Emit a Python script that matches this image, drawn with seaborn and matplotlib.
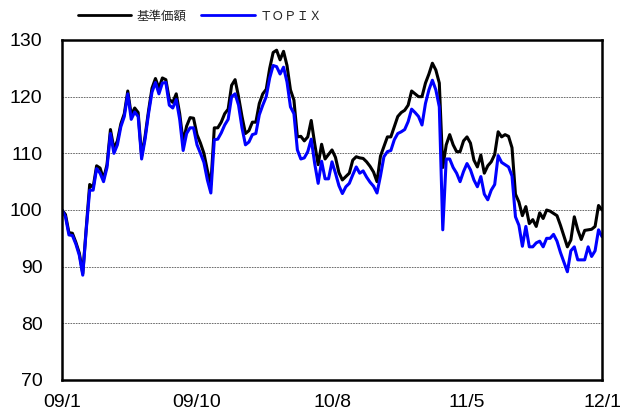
import numpy as np
import pandas as pd
import matplotlib
matplotlib.use("Agg")
import matplotlib.pyplot as plt
import seaborn as sns

# weekly values, 2009/1 - 2012/1, start = 100
fund = [100, 99.2, 96, 95.9, 94.3, 92.4, 88.8, 96.8, 104.5, 104,
        107.8, 107.4, 105.5, 108, 114.2, 110.8, 112.2, 115.2, 117, 121,
        116.8, 118, 117.2, 109.5, 113, 117.5, 121.5, 123.2, 121.5, 123.3,
        123, 119.5, 119, 120.5, 117, 112, 114.8, 116.3, 116.2, 113.3,
        111.8, 110, 107, 104.5, 114.5, 114.5, 115.5, 117, 117.8, 122,
        123, 120, 116.5, 113.5, 114, 115.5, 115.5, 118.8, 120.5, 121.3,
        125, 127.8, 128.2, 126.5, 128, 125.5, 121.2, 119.4, 112.9, 113,
        112.2, 112.9, 115.8, 111.7, 108, 111.6, 109, 109.8, 110.6, 109.3,
        106.6, 105.3, 105.9, 106.5, 108.8, 109.4, 109.2, 109.1, 108.5, 107.7,
        106.7, 105, 109.5, 111.2, 112.9, 112.9, 114.7, 116.5, 117.2, 117.6,
        118.5, 121, 120.5, 120, 120, 122.4, 124, 125.9, 124.7, 122.4,
        107.5, 111.5, 113.3, 111.5, 110.3, 110.3, 112.2, 112.9, 111.8, 108.8,
        107.6, 109.7, 106.5, 107.8, 108.5, 109.8, 113.8, 112.9, 113.3, 113,
        111, 102.8, 101.4, 99, 100.6, 97.6, 98.3, 97.1, 99.5, 98.5,
        100, 99.8, 99.4, 99, 97.3, 95.4, 93.5, 94.7, 98.8, 96.5,
        94.8, 96.4, 96.5, 96.6, 97.1, 100.8, 100]

topix = [100, 98.8, 95.6, 95.5, 94, 92, 88.5, 96.5, 103.5, 103.5,
         107.3, 106.5, 105, 107.5, 113.5, 110, 111.5, 114.7, 116.5, 120.5,
         116, 117.3, 116.5, 109, 112.5, 117, 120.8, 122.5, 120.5, 122.4,
         122.5, 118.5, 118, 119.5, 116, 110.5, 113.5, 114.5, 114.5, 111.5,
         110, 108.4, 105.3, 103, 112.4, 112.5, 113.6, 115, 116, 120,
         120.5, 118.5, 114.5, 111.5, 112, 113.3, 113.5, 116.8, 118.5, 120,
         123.3, 125.5, 125.3, 124, 125.2, 122.6, 118.2, 117, 110.6, 109,
         109.2, 110.3, 112.5, 108.2, 104.7, 108.6, 105.5, 105.5, 108.5, 106.5,
         104.3, 102.9, 104.1, 104.7, 106.2, 107.6, 106.5, 106.9, 105.8, 104.9,
         104.2, 103, 106, 109.4, 110.3, 110.5, 112.4, 113.5, 113.8, 114.2,
         115.6, 117.8, 117.2, 116.5, 115, 118.8, 121.2, 122.9, 121.2, 118.2,
         96.5, 109, 109, 107.5, 106.5, 105, 106.8, 108.2, 107.1, 105.3,
         104.1, 105.9, 102.8, 101.8, 103.5, 104.5, 109.6, 108.4, 108, 107.6,
         106, 98.8, 97.3, 93.6, 97.1, 93.5, 93.5, 94.2, 94.5, 93.5,
         95, 95, 95.7, 94.5, 92.5, 90.8, 89.1, 92.8, 93.5, 91.2,
         91.2, 91.2, 93.5, 91.8, 92.8, 96.5, 95.3]

series_names = ["基準価額", "ＴＯＰＩＸ"]
series_colors = ["black", "#0000ff"]
tick_labels = ["09/1", "09/10", "10/8", "11/5", "12/1"]

NUM_FONT = ["Liberation Sans Narrow", "Liberation Sans", "DejaVu Sans"]
JP_FONT = ["Noto Sans CJK JP", "DejaVu Sans"]


def build_frame():
    week = np.arange(len(fund))
    df = pd.concat([
        pd.DataFrame({"week": week, "value": fund, "name": series_names[0]}),
        pd.DataFrame({"week": week, "value": topix, "name": series_names[1]}),
    ], ignore_index=True)
    return df


def draw(df):
    sns.set_style("white")
    fig = plt.figure(figsize=(6.34, 4.16), dpi=100)
    ax = fig.add_axes([62 / 634, 36 / 416, 540 / 634, 340 / 416])

    sns.lineplot(data=df, x="week", y="value", hue="name",
                 hue_order=series_names, palette=series_colors,
                 linewidth=2.2, ax=ax)

    n = len(fund) - 1
    ax.set_xlim(0, n)
    ax.set_ylim(70, 130)
    ax.set_xticks(np.linspace(0, n, len(tick_labels)))
    ax.set_xticklabels(tick_labels)
    ax.set_yticks(range(70, 131, 10))
    ax.set_xlabel("")
    ax.set_ylabel("")

    for y in range(80, 130, 10):
        ax.axhline(y, color="#555555", linewidth=0.6,
                   linestyle=(0, (2, 1.2)), zorder=0)

    for s in ax.spines.values():
        s.set_color("black")
        s.set_linewidth(1.8)

    ax.tick_params(axis="x", direction="in", length=4, width=0.8,
                   pad=10, colors="black")
    ax.tick_params(axis="y", length=0, pad=14, colors="black")
    for lab in ax.get_xticklabels() + ax.get_yticklabels():
        lab.set_fontfamily(NUM_FONT)
        lab.set_fontsize(14)

    handles, labels = ax.get_legend_handles_labels()
    ax.legend_.remove()
    leg = fig.legend(handles, labels, loc="center", ncol=2,
                     bbox_to_anchor=(200 / 634, 1 - 16 / 416),
                     frameon=False, handlelength=4.3, handletextpad=0.4,
                     columnspacing=1.2, prop={"family": JP_FONT, "size": 9})
    for line in leg.get_lines():
        line.set_linewidth(2.0)

    fig.savefig("out.png", dpi=100)


draw(build_frame())
